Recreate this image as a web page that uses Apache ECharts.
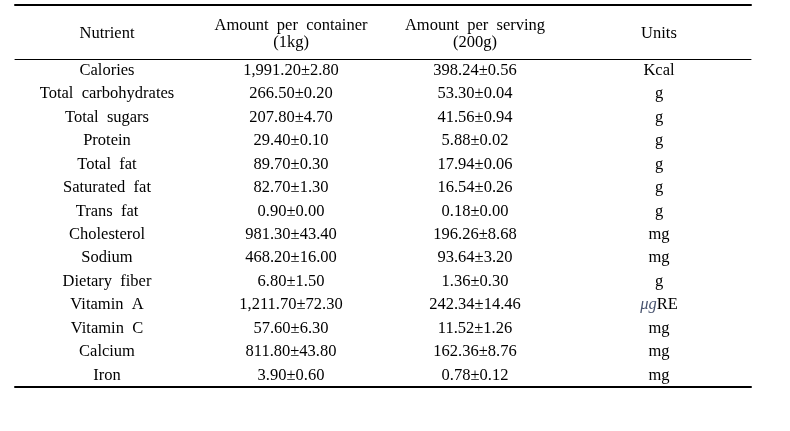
<!DOCTYPE html>
<html>
<head>
<meta charset="utf-8">
<script src="https://cdn.jsdelivr.net/npm/echarts@6/dist/echarts.min.js"></script>
<style>
html,body{margin:0;padding:0;background:#fff;}
#chart{width:790px;height:431px;}
</style>
</head>
<body>
<div id="chart"></div>
<script>
var headers = ['Nutrient', 'Amount  per  container\n(1kg)', 'Amount  per  serving\n(200g)', 'Units'];
var nutrients = ['Calories', 'Total  carbohydrates', 'Total  sugars', 'Protein', 'Total  fat', 'Saturated  fat', 'Trans  fat', 'Cholesterol', 'Sodium', 'Dietary  fiber', 'Vitamin  A', 'Vitamin  C', 'Calcium', 'Iron'];
var perContainer = ['1,991.20±2.80', '266.50±0.20', '207.80±4.70', '29.40±0.10', '89.70±0.30', '82.70±1.30', '0.90±0.00', '981.30±43.40', '468.20±16.00', '6.80±1.50', '1,211.70±72.30', '57.60±6.30', '811.80±43.80', '3.90±0.60'];
var perServing = ['398.24±0.56', '53.30±0.04', '41.56±0.94', '5.88±0.02', '17.94±0.06', '16.54±0.26', '0.18±0.00', '196.26±8.68', '93.64±3.20', '1.36±0.30', '242.34±14.46', '11.52±1.26', '162.36±8.76', '0.78±0.12'];
var units = ['Kcal', 'g', 'g', 'g', 'g', 'g', 'g', 'mg', 'mg', 'g', 'μgRE', 'mg', 'mg', 'mg'];

var FONT = '"Liberation Serif", "DejaVu Serif", serif';
var FS = 16.5;
var columns = [nutrients, perContainer, perServing, units];

var series = columns.map(function (col, ci) {
  return {
    type: 'scatter',
    symbolSize: 0,
    silent: true,
    itemStyle: { color: '#000', opacity: 0 },
    data: col.map(function (txt, ri) { return [headers[ci], nutrients[ri], txt]; }),
    label: {
      show: true,
      position: 'inside',
      color: '#000',
      opacity: 1,
      textBorderWidth: 0,
      fontFamily: FONT,
      fontSize: FS,
      formatter: function (p) {
        var t = p.value[2];
        if (t.indexOf('μg') === 0) return '{it|μg}' + t.slice(2);
        return t;
      },
      rich: {
        it: { fontStyle: 'italic', fontFamily: FONT, fontSize: FS, color: '#4a5570', textBorderWidth: 0 }
      }
    }
  };
});

var chart = echarts.init(document.getElementById('chart'), null, { renderer: 'canvas' });
chart.setOption({
  backgroundColor: '#fff',
  animation: false,
  grid: { left: 15, right: 39, top: 59, bottom: 44 },
  xAxis: [
    {
      type: 'category', data: headers, position: 'top',
      axisLine: { show: true, lineStyle: { color: '#000', width: 1 } },
      axisTick: { show: false }, splitLine: { show: false },
      axisLabel: {
        show: true, margin: 25, verticalAlign: 'middle', color: '#000',
        fontFamily: FONT, fontSize: FS, lineHeight: 17, interval: 0
      }
    },
    {
      type: 'category', data: headers, position: 'top', offset: 54,
      axisLine: { show: true, lineStyle: { color: '#000', width: 2 } },
      axisTick: { show: false }, axisLabel: { show: false }, splitLine: { show: false }
    },
    {
      type: 'category', data: headers, position: 'bottom',
      axisLine: { show: true, lineStyle: { color: '#000', width: 2 } },
      axisTick: { show: false }, axisLabel: { show: false }, splitLine: { show: false }
    }
  ],
  yAxis: {
    type: 'category', data: nutrients, inverse: true,
    axisLine: { show: false }, axisTick: { show: false },
    axisLabel: { show: false }, splitLine: { show: false }
  },
  series: series
});
</script>
</body>
</html>
